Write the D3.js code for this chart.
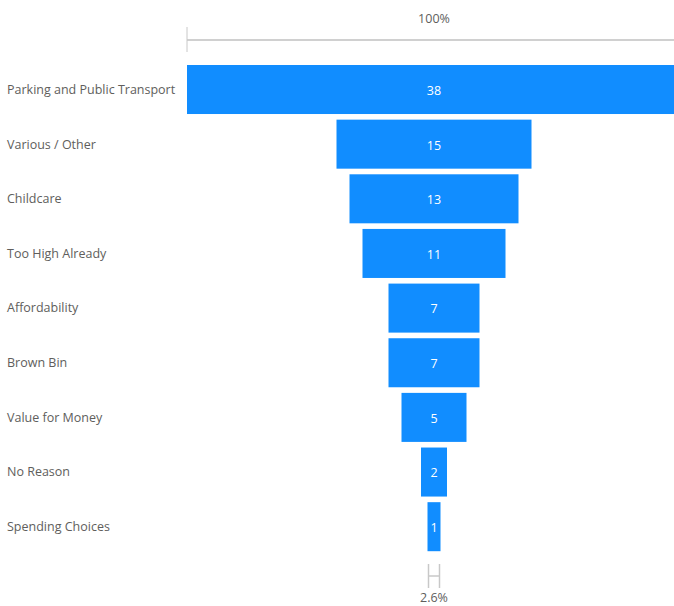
<!DOCTYPE html>
<html><head><meta charset="utf-8">
<script src="https://cdn.jsdelivr.net/npm/d3@7"></script>
<style>
html,body{margin:0;padding:0;background:#fff;overflow:hidden;}
svg{display:block;font-family:"Segoe UI","Open Sans",sans-serif;}
</style></head>
<body>
<svg id="chart" width="674" height="606"></svg>
<script>
const categories = ["Parking and Public Transport","Various / Other","Childcare","Too High Already","Affordability","Brown Bin","Value for Money","No Reason","Spending Choices"];
const values = [38,15,13,11,7,7,5,2,1];
const topLabel = "100%";
const bottomLabel = "2.6%";

const svg = d3.select("#chart");
const cx = 434;
const maxW = 494;
const w = d3.scaleLinear().domain([0, d3.max(values)]).range([0, maxW]);
const y = d3.scaleBand().domain(categories).range([65, 551.2]).paddingInner(0.103).paddingOuter(0);

// top axis
const gTop = svg.append("g");
gTop.append("line").attr("x1", cx - w(values[0])/2).attr("x2", cx + w(values[0])/2).attr("y1", 40).attr("y2", 40).attr("stroke", "#d0d0d0").attr("stroke-width", 2);
gTop.append("line").attr("x1", cx - w(values[0])/2).attr("x2", cx - w(values[0])/2).attr("y1", 27).attr("y2", 52).attr("stroke", "#c8c8c8").attr("stroke-width", 1);
gTop.append("text").attr("x", cx).attr("y", 23).attr("text-anchor", "middle").attr("font-size", 12.5).attr("fill", "#605E5C").text(topLabel);

// bars
const bars = svg.append("g").selectAll("g").data(categories).join("g");
bars.append("rect")
  .attr("x", (d,i) => cx - w(values[i])/2)
  .attr("y", d => y(d))
  .attr("width", (d,i) => w(values[i]))
  .attr("height", y.bandwidth())
  .attr("fill", "#118DFF");
bars.append("text")
  .attr("x", cx)
  .attr("y", d => y(d) + y.bandwidth()/2 + 1)
  .attr("dy", "0.35em")
  .attr("text-anchor", "middle")
  .attr("font-size", 12.5)
  .attr("fill", "#ffffff")
  .text((d,i) => values[i]);
bars.append("text")
  .attr("x", 7)
  .attr("y", d => y(d) + y.bandwidth()/2)
  .attr("dy", "0.35em")
  .attr("font-size", 12.5)
  .attr("fill", "#605E5C")
  .text(d => d);

// bottom marker
const last = values[values.length-1];
const bx1 = cx - w(last)/2 + 1, bx2 = cx + w(last)/2 - 1;
const gB = svg.append("g").attr("stroke", "#c8c8c8").attr("stroke-width", 1.5);
gB.append("line").attr("x1", bx1).attr("x2", bx1).attr("y1", 564).attr("y2", 588);
gB.append("line").attr("x1", bx2).attr("x2", bx2).attr("y1", 564).attr("y2", 588);
gB.append("line").attr("x1", bx1).attr("x2", bx2).attr("y1", 576).attr("y2", 576);
svg.append("text").attr("x", cx).attr("y", 602).attr("text-anchor", "middle").attr("font-size", 12.5).attr("fill", "#605E5C").text(bottomLabel);
</script>
</body></html>
